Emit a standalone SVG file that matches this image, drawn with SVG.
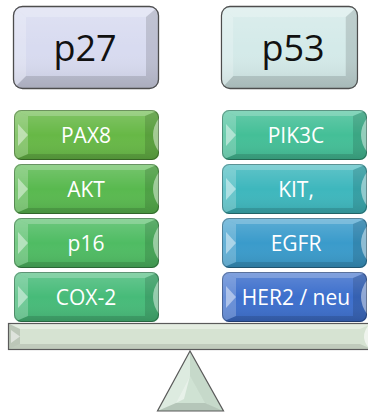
<svg xmlns="http://www.w3.org/2000/svg" xmlns:xlink="http://www.w3.org/1999/xlink" width="368" height="413" viewBox="0 0 368 413">
<style>
.lbl{font-family:"Open Sans","Liberation Sans",sans-serif;font-size:21px;fill:#ffffff;text-anchor:middle}
.big{font-family:"Open Sans","Liberation Sans",sans-serif;font-size:36px;fill:#111111;text-anchor:middle}
.hi{fill:#ffffff;fill-opacity:.22}
.lo{fill:#000000;fill-opacity:.13}
.arw{fill:#ffffff;fill-opacity:.45}
.brd{fill:none;stroke:#000;stroke-opacity:.3;stroke-width:1}
.gbrd{fill:none;stroke:#5a5a5a;stroke-width:1.2}
</style>
<defs>
<linearGradient id="gl" x1="0" y1="0" x2="0" y2="1">
<stop offset="0" stop-color="#fff" stop-opacity=".18"/>
<stop offset=".5" stop-color="#fff" stop-opacity="0"/>
<stop offset="1" stop-color="#000" stop-opacity=".1"/>
</linearGradient>
<clipPath id="cs"><rect x="0" y="0" width="145" height="50" rx="7"/></clipPath>
<g id="bev">
<g clip-path="url(#cs)">
<rect x="0" y="0" width="145" height="50" fill="url(#gl)"/>
<polygon class="hi" points="0,0 145,0 131,6 14,6"/>
<polygon class="lo" points="0,50 145,50 131,44 14,44"/>
<polygon class="hi" points="0,0 14,6 14,44 0,50"/>
<polygon class="lo" points="145,0 131,6 131,44 145,50" fill-opacity=".06"/>
<polygon class="arw" points="4,14 14,25 4,36"/>
<path class="arw" d="M145,8 Q133,25 145,42 Z" fill-opacity=".6"/>
</g>
<rect class="brd" x="0.5" y="0.5" width="144" height="49" rx="7"/>
</g>
<clipPath id="cb"><rect x="0" y="0" width="146" height="83" rx="9"/></clipPath>
<g id="bigbev">
<g clip-path="url(#cb)">
<rect x="0" y="0" width="146" height="83" fill="url(#gl)"/>
<polygon class="hi" points="0,0 146,0 133,11 13,11" fill-opacity=".5"/>
<polygon class="lo" points="0,83 146,83 133,70 13,70" fill-opacity=".12"/>
<polygon class="hi" points="0,0 13,11 13,70 0,83" fill-opacity=".35"/>
<polygon class="lo" points="146,0 133,11 133,70 146,83" fill-opacity=".05"/>
</g>
<rect x="0.5" y="0.5" width="145" height="82" rx="9" fill="none" stroke="#4d4d4d" stroke-width="1.3"/>
</g>
</defs>

<g id="p27">
<rect x="13" y="6" width="146" height="83" rx="9" fill="#d8dbf0"/>
<use xlink:href="#bigbev" x="13" y="6"/>
<text class="big" x="85" y="61">p27</text>
</g>
<g id="p53">
<rect x="221" y="6" width="137" height="83" rx="9" fill="#d4eae9"/>
<use xlink:href="#bigbev" x="221" y="6" transform="translate(221 6) scale(0.938 1) translate(-221 -6)"/>
<text class="big" x="293" y="61">p53</text>
</g>

<g id="pax8">
<rect x="14" y="110" width="145" height="50" rx="7" fill="#67b846"/>
<use xlink:href="#bev" x="14" y="110"/>
<text class="lbl" x="86" y="142.5">PAX8</text>
</g>
<g id="akt">
<rect x="14" y="164" width="145" height="50" rx="7" fill="#59b94f"/>
<use xlink:href="#bev" x="14" y="164"/>
<text class="lbl" x="86" y="196.5">AKT</text>
</g>
<g id="p16">
<rect x="14" y="218" width="145" height="50" rx="7" fill="#4fbc63"/>
<use xlink:href="#bev" x="14" y="218"/>
<text class="lbl" x="86" y="250.5">p16</text>
</g>
<g id="cox2">
<rect x="14" y="272" width="145" height="50" rx="7" fill="#47bb79"/>
<use xlink:href="#bev" x="14" y="272"/>
<text class="lbl" x="86" y="304.5">COX-2</text>
</g>

<g id="pik3c">
<rect x="222" y="110" width="145" height="50" rx="7" fill="#44bf97"/>
<use xlink:href="#bev" x="222" y="110"/>
<text class="lbl" x="296" y="142.5">PIK3C</text>
</g>
<g id="kit">
<rect x="222" y="164" width="145" height="50" rx="7" fill="#3eb7bd"/>
<use xlink:href="#bev" x="222" y="164"/>
<text class="lbl" x="296" y="196.5">KIT,</text>
</g>
<g id="egfr">
<rect x="222" y="218" width="145" height="50" rx="7" fill="#3a9bcb"/>
<use xlink:href="#bev" x="222" y="218"/>
<text class="lbl" x="296" y="250.5">EGFR</text>
</g>
<g id="her2">
<rect x="222" y="272" width="145" height="50" rx="7" fill="#3d6fcc"/>
<use xlink:href="#bev" x="222" y="272"/>
<text class="lbl" x="296" y="304.5">HER2 / neu</text>
</g>

<g id="beam">
<rect x="8.5" y="323.5" width="365" height="26" fill="#d6e3d2"/>
<polygon points="8.5,323.5 373,323.5 360,329 20,329" fill="#ffffff" fill-opacity=".35"/>
<polygon points="8.5,349.5 373,349.5 360,344 20,344" fill="#000" fill-opacity=".1"/>
<polygon points="8.5,323.5 20,329 20,344 8.5,349.5" fill="#000" fill-opacity=".12"/>
<polygon points="11,330 20,336.5 11,343" fill="#ffffff" fill-opacity=".5"/>
<path d="M368,326 Q360,336.5 368,347 Z" fill="#ffffff" fill-opacity=".6"/>
<rect class="gbrd" x="8.5" y="323.5" width="365" height="26"/>
</g>

<g id="fulcrum">
<polygon points="190,351 157.5,411 223.5,411" fill="#cfe2d3"/>
<polygon points="190,351 190,376 176,403 157.5,411" fill="#ffffff" fill-opacity=".3"/>
<polygon points="157.5,411 176,403 205,403 223.5,411" fill="#000" fill-opacity=".12"/>
<polygon points="190,351 223.5,411 205,403 190,376" fill="#000" fill-opacity=".04"/>
<polygon points="190,376 176,403 184,399" fill="#ffffff" fill-opacity=".5"/>
<polygon points="190,351 157.5,411 223.5,411" class="gbrd"/>
</g>
</svg>
